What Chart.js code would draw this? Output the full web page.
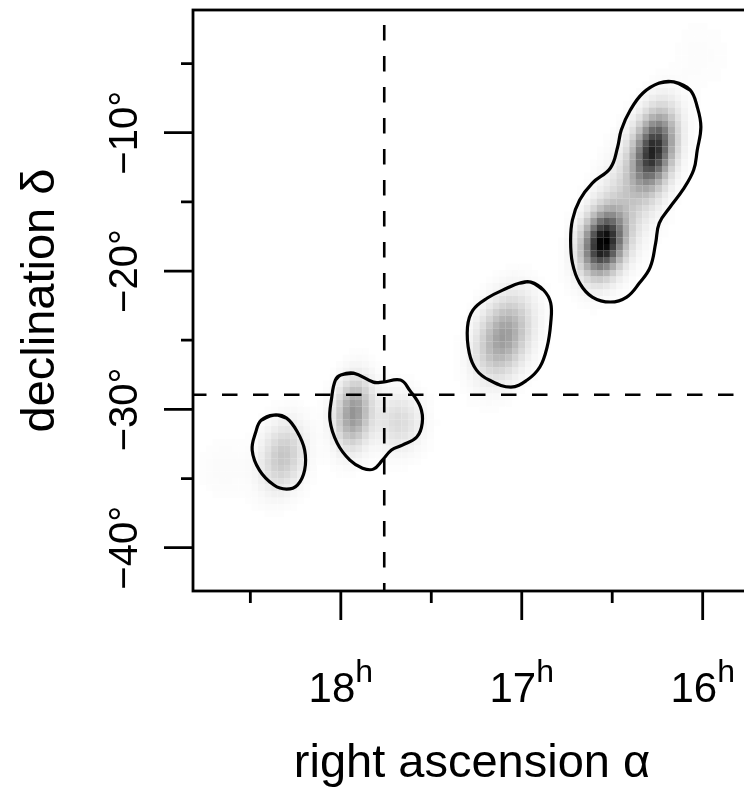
<!DOCTYPE html>
<html>
<head>
<meta charset="utf-8">
<script src="https://cdn.jsdelivr.net/npm/chart.js@4.4.1/dist/chart.umd.min.js"></script>
<style>
  html, body { margin: 0; padding: 0; background: #fff; overflow: hidden; }
  #wrap { width: 800px; height: 788px; }
</style>
</head>
<body>
<div id="wrap"><canvas id="chart" width="800" height="788"></canvas></div>
<script>
// axis limits (right ascension runs right to left)
const raMin = 15.733
const raMax = 18.817
const decMin = -43.13
const decMax = -1.13

const raMajorTicks = [18, 17, 16]
const raMinorTicks = [18.5, 17.5, 16.5]
const raTickLabels = ['18', '17', '16']
const decMajorTicks = [-10, -20, -30, -40]
const decMinorTicks = [-5, -15, -25, -35]
const decTickLabels = ['−10°', '−20°', '−30°', '−40°']

// galactic centre cross-hair
const centreRA = 17.76
const centreDec = -28.94

// kernel sources of the density image
const srcRA    = [16.55, 16.27, 16.41, 17.10, 17.93, 17.68, 18.32, 16.01, 18.64]
const srcDec   = [-17.98, -11.25, -14.72, -24.77, -30.27, -30.92, -33.45, -4.38, -34.39]
const srcPeak  = [1.0, 0.85, 0.18, 0.42, 0.45, 0.15, 0.24, 0.012, 0.018]
const srcSdRA  = [0.074, 0.074, 0.13, 0.095, 0.065, 0.085, 0.08, 0.12, 0.10]
const srcSdDec = [1.45, 1.75, 3.0, 1.85, 1.6, 1.4, 1.6, 2.0, 1.5]
const srcRho   = [-0.2, -0.3, -0.55, -0.3, -0.15, 0, -0.2, 0, 0]

// image grid step
const gridStepRA = 0.036
const gridStepDec = 0.47

// contour outlines [ra, dec]
const contourA = [[16.16,-6.33],[16.07,-6.91],[16.03,-8.14],[16.01,-9.59],[16.03,-11.25],[16.05,-12.70],[16.11,-14.14],[16.18,-15.37],[16.24,-16.53],[16.26,-17.98],[16.29,-19.71],[16.35,-20.87],[16.42,-21.88],[16.51,-22.24],[16.61,-21.88],[16.68,-20.87],[16.72,-19.42],[16.73,-17.76],[16.72,-16.31],[16.68,-14.87],[16.61,-13.64],[16.51,-12.55],[16.47,-11.03],[16.45,-9.80],[16.40,-8.36],[16.33,-7.13],[16.24,-6.41]]
const contourB = [[16.95,-20.80],[16.88,-21.37],[16.84,-22.31],[16.84,-23.76],[16.86,-25.50],[16.90,-26.94],[16.97,-27.88],[17.06,-28.39],[17.18,-27.88],[17.25,-27.16],[17.29,-25.93],[17.30,-24.05],[17.27,-22.82],[17.19,-21.95],[17.08,-21.23],[17.01,-20.87]]
const contourC = [[18.00,-27.52],[17.93,-27.38],[17.82,-28.03],[17.77,-28.03],[17.67,-27.88],[17.62,-28.61],[17.56,-29.84],[17.55,-30.99],[17.58,-32.00],[17.66,-32.58],[17.72,-32.94],[17.77,-33.67],[17.82,-34.32],[17.88,-34.25],[17.95,-33.67],[18.02,-32.44],[18.06,-30.78],[18.05,-29.11],[18.03,-27.88]]
const contourD = [[18.37,-30.41],[18.30,-30.63],[18.24,-31.64],[18.20,-32.94],[18.20,-34.39],[18.24,-35.47],[18.30,-35.76],[18.37,-35.47],[18.45,-34.39],[18.49,-32.94],[18.47,-31.64],[18.44,-30.78]]

const FONT = '"Liberation Sans", Arial, Helvetica, sans-serif'

function densityAt(ra, dec) {
  let d = 0
  for (let k = 0; k < srcRA.length; k++) {
    const u = (ra - srcRA[k]) / srcSdRA[k]
    const v = (dec - srcDec[k]) / srcSdDec[k]
    const r = srcRho[k]
    d += srcPeak[k] * Math.exp(-(u * u - 2 * r * u * v + v * v) / (2 * (1 - r * r)))
  }
  return d
}

// evaluate the density on the image grid
const cells = []
let dMax = 0
for (let ra = raMax - gridStepRA / 2; ra > raMin - gridStepRA; ra -= gridStepRA) {
  for (let dec = decMax - gridStepDec / 2; dec > decMin - gridStepDec; dec -= gridStepDec) {
    const d = densityAt(ra, dec)
    if (d > dMax) dMax = d
    cells.push({ x: ra, y: dec, v: d })
  }
}
const imageCells = cells.filter(c => c.v / dMax > 0.006)

function loop(points) {
  const pts = points.map(p => ({ x: p[0], y: p[1] }))
  return [pts[pts.length - 1], ...pts, pts[0], pts[1]]
}

function contourDataset(points) {
  return {
    data: loop(points),
    showLine: true,
    borderColor: '#000',
    borderWidth: 3.2,
    tension: 0.4,
    pointRadius: 0,
    order: 1
  }
}

const rAxes = {
  id: 'rAxes',
  afterDraw(chart) {
    const { ctx, chartArea: a, scales: { x, y } } = chart
    ctx.save()
    ctx.strokeStyle = '#000'
    ctx.fillStyle = '#000'
    ctx.lineWidth = 2.8
    ctx.strokeRect(a.left, a.top, a.right - a.left, a.bottom - a.top)

    ctx.beginPath()
    raMajorTicks.forEach(v => {
      const px = x.getPixelForValue(v)
      ctx.moveTo(px, a.bottom); ctx.lineTo(px, a.bottom + 29)
    })
    raMinorTicks.forEach(v => {
      const px = x.getPixelForValue(v)
      ctx.moveTo(px, a.bottom); ctx.lineTo(px, a.bottom + 12)
    })
    decMajorTicks.forEach(v => {
      const py = y.getPixelForValue(v)
      ctx.moveTo(a.left, py); ctx.lineTo(a.left - 29, py)
    })
    decMinorTicks.forEach(v => {
      const py = y.getPixelForValue(v)
      ctx.moveTo(a.left, py); ctx.lineTo(a.left - 12, py)
    })
    ctx.stroke()

    // hour labels with superscript h
    ctx.textAlign = 'left'
    ctx.textBaseline = 'alphabetic'
    raMajorTicks.forEach((v, i) => {
      const px = x.getPixelForValue(v)
      ctx.font = '42px ' + FONT
      const wBase = ctx.measureText(raTickLabels[i]).width
      ctx.font = '32px ' + FONT
      const wSup = ctx.measureText('h').width
      const left = px - (wBase + wSup) / 2
      ctx.font = '42px ' + FONT
      ctx.fillText(raTickLabels[i], left, a.bottom + 111)
      ctx.font = '32px ' + FONT
      ctx.fillText('h', left + wBase, a.bottom + 91)
    })

    // declination labels, rotated
    ctx.textAlign = 'center'
    ctx.font = '40px ' + FONT
    decMajorTicks.forEach((v, i) => {
      const py = y.getPixelForValue(v)
      ctx.save()
      ctx.translate(a.left - 56, py)
      ctx.rotate(-Math.PI / 2)
      ctx.fillText(decTickLabels[i], 0, 0)
      ctx.restore()
    })

    // axis titles
    ctx.font = '47px ' + FONT
    ctx.fillText('right ascension α', (a.left + a.right) / 2, a.bottom + 186)
    ctx.save()
    ctx.translate(a.left - 139, (a.top + a.bottom) / 2)
    ctx.rotate(-Math.PI / 2)
    ctx.fillText('declination δ', 0, 0)
    ctx.restore()
    ctx.restore()
  }
}

new Chart(document.getElementById('chart'), {
  type: 'scatter',
  data: {
    datasets: [
      {
        data: [{ x: centreRA, y: decMax }, { x: centreRA, y: decMin }],
        showLine: true,
        borderColor: '#000',
        borderWidth: 2.6,
        borderDash: [15.5, 15.5],
        borderDashOffset: 16,
        pointRadius: 0,
        order: 0
      },
      {
        data: [{ x: raMax, y: centreDec }, { x: raMin, y: centreDec }],
        showLine: true,
        borderColor: '#000',
        borderWidth: 2.6,
        borderDash: [15.5, 15.5],
        borderDashOffset: 2,
        pointRadius: 0,
        order: 0
      },
      contourDataset(contourA),
      contourDataset(contourB),
      contourDataset(contourC),
      contourDataset(contourD),
      {
        data: imageCells,
        pointStyle: 'rect',
        pointBorderWidth: 0,
        pointRadius: (c) => {
          const s = c.chart.scales.x
          const w = Math.abs(s.getPixelForValue(raMax) - s.getPixelForValue(raMax - gridStepRA))
          return w / Math.SQRT2 + 0.1
        },
        pointBackgroundColor: (c) => {
          const g = Math.round(255 * (1 - Math.min(1, c.raw.v / dMax)))
          return `rgb(${g},${g},${g})`
        },
        order: 10
      }
    ]
  },
  options: {
    responsive: false,
    animation: false,
    events: [],
    layout: { padding: { left: 193, top: 10, right: 49, bottom: 197 } },
    plugins: { legend: { display: false }, tooltip: { enabled: false } },
    scales: {
      x: { type: 'linear', reverse: true, min: raMin, max: raMax, display: false },
      y: { type: 'linear', min: decMin, max: decMax, display: false }
    }
  },
  plugins: [rAxes]
})
</script>
</body>
</html>
